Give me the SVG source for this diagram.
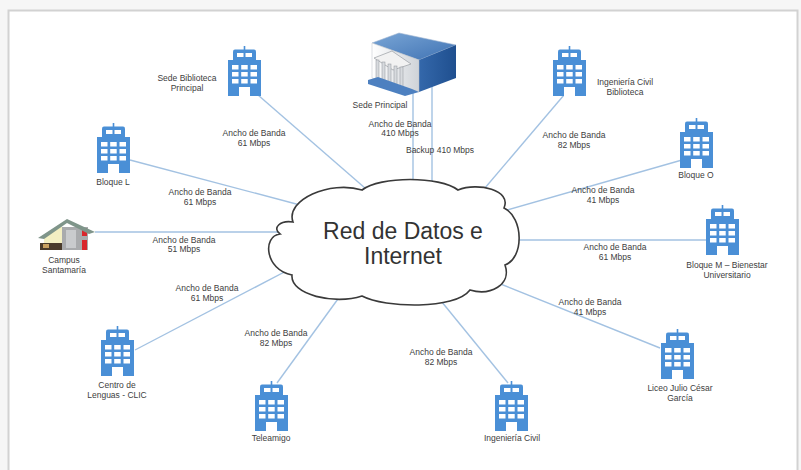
<svg xmlns="http://www.w3.org/2000/svg" width="801" height="470" viewBox="0 0 801 470">
  <style>
    .lbl { font-family: "Liberation Sans", Arial, sans-serif; font-size: 8.5px; fill: #404040; text-anchor: middle; }
    .link { stroke: #a3c2e2; stroke-width: 1.4; fill: none; }
    .title { font-family: "Liberation Sans", Arial, sans-serif; font-size: 23px; fill: #333333; text-anchor: middle; }
  </style>
  <defs>
    <!-- office tower pictogram, 33 x 50 -->
    <symbol id="tower" viewBox="0 0 33 50" width="33" height="50">
      <rect x="15.7" y="0" width="1.6" height="4" fill="#4a8fd6"/>
      <rect x="5" y="3.5" width="23" height="12" rx="2" fill="#4a8fd6"/>
      <rect x="0" y="14" width="33" height="36" fill="#4a8fd6"/>
      <g fill="#ffffff">
        <rect x="9" y="7" width="6.5" height="4"/>
        <rect x="17.5" y="7" width="6.5" height="4"/>
        <rect x="4" y="19" width="6.5" height="4.5"/>
        <rect x="13.2" y="19" width="6.5" height="4.5"/>
        <rect x="22.5" y="19" width="6.5" height="4.5"/>
        <rect x="4" y="26" width="6.5" height="4.5"/>
        <rect x="13.2" y="26" width="6.5" height="4.5"/>
        <rect x="22.5" y="26" width="6.5" height="4.5"/>
        <rect x="4" y="33" width="6.5" height="4.5"/>
        <rect x="13.2" y="33" width="6.5" height="4.5"/>
        <rect x="22.5" y="33" width="6.5" height="4.5"/>
        <rect x="11" y="41" width="11" height="9"/>
      </g>
    </symbol>
    <linearGradient id="roof" x1="0" y1="0" x2="1" y2="1">
      <stop offset="0" stop-color="#7aa6d6"/>
      <stop offset="1" stop-color="#3f72b3"/>
    </linearGradient>
    <linearGradient id="side" x1="0" y1="0" x2="1" y2="0">
      <stop offset="0" stop-color="#3468ab"/>
      <stop offset="1" stop-color="#1f4f8f"/>
    </linearGradient>
    <linearGradient id="front" x1="0" y1="0" x2="1" y2="0">
      <stop offset="0" stop-color="#ffffff"/>
      <stop offset="1" stop-color="#cfd3d8"/>
    </linearGradient>
  </defs>

  <!-- page and frame -->
  <rect x="0" y="0" width="801" height="470" fill="#f6f6f6"/>
  <rect x="8.5" y="10.5" width="789" height="470" fill="#ffffff" stroke="#d2d2d2" stroke-width="2"/>

  <!-- connectors -->
  <g id="links">
    <line class="link" x1="258" y1="95" x2="373" y2="195"/>
    <line class="link" x1="413" y1="88" x2="413" y2="195"/>
    <line class="link" x1="432" y1="86" x2="432" y2="195"/>
    <line class="link" x1="564" y1="95" x2="479" y2="195"/>
    <line class="link" x1="130" y1="160" x2="300" y2="205"/>
    <line class="link" x1="682" y1="160" x2="500" y2="212"/>
    <line class="link" x1="95" y1="232" x2="290" y2="232"/>
    <line class="link" x1="706" y1="240" x2="505" y2="240"/>
    <line class="link" x1="135" y1="350" x2="292" y2="268"/>
    <line class="link" x1="277" y1="383" x2="343" y2="292"/>
    <line class="link" x1="508" y1="383" x2="437" y2="296"/>
    <line class="link" x1="660" y1="348" x2="498" y2="283"/>
  </g>

  <!-- connector labels -->
  <g id="link-labels">
    <text class="lbl" x="254" y="136">Ancho de Banda</text>
    <text class="lbl" x="254" y="146">61 Mbps</text>
    <text class="lbl" x="400" y="127">Ancho de Banda</text>
    <text class="lbl" x="400" y="136">410 Mbps</text>
    <text class="lbl" x="440" y="153">Backup 410 Mbps</text>
    <text class="lbl" x="574" y="138">Ancho de Banda</text>
    <text class="lbl" x="574" y="148">82 Mbps</text>
    <text class="lbl" x="200" y="195">Ancho de Banda</text>
    <text class="lbl" x="200" y="205">61 Mbps</text>
    <text class="lbl" x="603" y="193">Ancho de Banda</text>
    <text class="lbl" x="603" y="203">41 Mbps</text>
    <text class="lbl" x="184" y="243">Ancho de Banda</text>
    <text class="lbl" x="184" y="252">51 Mbps</text>
    <text class="lbl" x="615" y="250">Ancho de Banda</text>
    <text class="lbl" x="615" y="260">61 Mbps</text>
    <text class="lbl" x="207" y="291">Ancho de Banda</text>
    <text class="lbl" x="207" y="301">61 Mbps</text>
    <text class="lbl" x="276" y="336">Ancho de Banda</text>
    <text class="lbl" x="276" y="346">82 Mbps</text>
    <text class="lbl" x="441" y="355">Ancho de Banda</text>
    <text class="lbl" x="441" y="365">82 Mbps</text>
    <text class="lbl" x="590" y="305">Ancho de Banda</text>
    <text class="lbl" x="590" y="315">41 Mbps</text>
  </g>

  <!-- central cloud -->
  <g id="cloud">
    <path d="M 293,222 C 285,200 330,180 362,190 C 380,176 440,176 458,190 C 478,182 512,190 504,208 C 524,218 524,258 505,265 C 512,285 490,296 470,290 C 455,310 385,308 362,296 C 335,305 290,295 292,275 C 265,270 262,236 280,234 C 272,228 280,220 293,222 Z" fill="#ffffff" stroke="#3a3a3a" stroke-width="1.6"/>
    <text class="title" x="403" y="239">Red de Datos e</text>
    <text class="title" x="403" y="264">Internet</text>
  </g>

  <!-- sites -->
  <g id="sede-biblioteca-principal">
    <use href="#tower" x="228" y="46"/>
    <text class="lbl" x="187" y="81">Sede Biblioteca</text>
    <text class="lbl" x="187" y="91">Principal</text>
  </g>

  <g id="sede-principal">
    <polygon points="372,43 399,33 456,45 419,60" fill="url(#roof)" stroke="#9fb6d2" stroke-width="0.6"/>
    <polygon points="419,60 456,45 456,78 419,92" fill="url(#side)"/>
    <polygon points="372,43 419,60 419,92 372,78" fill="url(#front)" stroke="#b9bec4" stroke-width="0.5"/>
    <!-- portico -->
    <polygon points="374,58 392,51 411,64 393,70" fill="#f2f2f2" stroke="#9a9ea3" stroke-width="0.7"/>
    <g fill="#d7dade" stroke="#8f949a" stroke-width="0.5">
      <rect x="376" y="60" width="3" height="20"/>
      <rect x="382" y="62" width="3" height="20"/>
      <rect x="388" y="64" width="3" height="20"/>
      <rect x="394" y="66" width="3" height="20"/>
      <rect x="400" y="67" width="3" height="20"/>
    </g>
    <polygon points="368,80 378,77 412,89 419,92 405,96 368,84" fill="#4d80c0"/>
    <text class="lbl" x="380" y="108">Sede Principal</text>
  </g>

  <g id="ingenieria-civil-biblioteca">
    <use href="#tower" x="553" y="46"/>
    <text class="lbl" x="625" y="85">Ingeniería Civil</text>
    <text class="lbl" x="625" y="95">Biblioteca</text>
  </g>

  <g id="bloque-l">
    <use href="#tower" x="97" y="123"/>
    <text class="lbl" x="113" y="185">Bloque L</text>
  </g>

  <g id="bloque-o">
    <use href="#tower" x="680" y="118"/>
    <text class="lbl" x="696" y="178">Bloque O</text>
  </g>

  <g id="campus-santamaria">
    <rect x="62" y="227" width="26" height="23" fill="#a9abad"/>
    <rect x="66" y="230" width="10" height="18" fill="#c9cbcd"/>
    <polygon points="44,237 62,226 62,250 44,250" fill="#f3efc2"/>
    <rect x="40" y="243" width="22" height="7" fill="#4a3b2b"/>
    <rect x="43" y="244" width="6" height="4" fill="#c8a060"/>
    <rect x="82" y="228" width="5" height="8" fill="#d9262c"/>
    <rect x="82" y="240" width="5" height="10" fill="#d9262c"/>
    <polygon points="38,238 67,219 95,232 89,234 67,223 44,239" fill="#7f958a"/>
    <text class="lbl" x="64" y="263">Campus</text>
    <text class="lbl" x="64" y="273">Santamaría</text>
  </g>

  <g id="bloque-m">
    <use href="#tower" x="706" y="205"/>
    <text class="lbl" x="727" y="268">Bloque M – Bienestar</text>
    <text class="lbl" x="727" y="278">Universitario</text>
  </g>

  <g id="centro-lenguas">
    <use href="#tower" x="101" y="326"/>
    <text class="lbl" x="117" y="388">Centro de</text>
    <text class="lbl" x="117" y="398">Lenguas - CLIC</text>
  </g>

  <g id="teleamigo">
    <use href="#tower" x="255" y="381"/>
    <text class="lbl" x="271" y="441">Teleamigo</text>
  </g>

  <g id="ingenieria-civil">
    <use href="#tower" x="495" y="381"/>
    <text class="lbl" x="512" y="441">Ingeniería Civil</text>
  </g>

  <g id="liceo-julio-cesar-garcia">
    <use href="#tower" x="661" y="329"/>
    <text class="lbl" x="680" y="391">Liceo Julio César</text>
    <text class="lbl" x="680" y="401">García</text>
  </g>
</svg>
